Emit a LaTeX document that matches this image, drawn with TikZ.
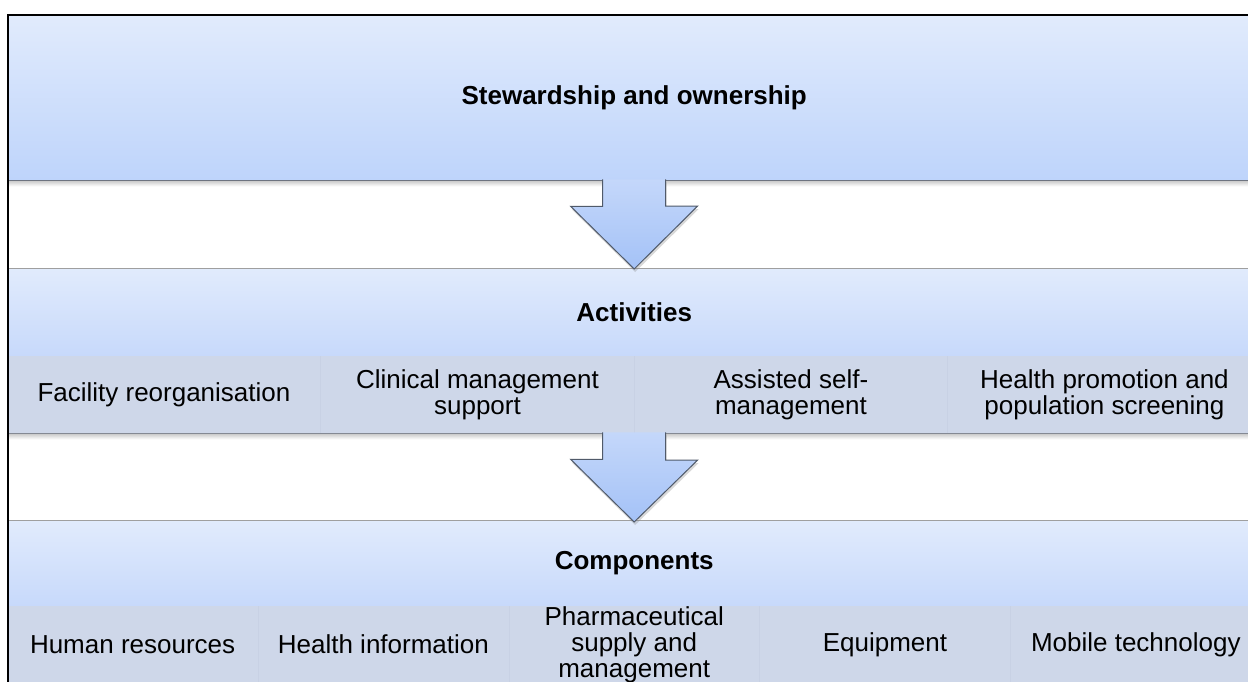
\documentclass[tikz,border=0pt]{standalone}
\usepackage{fontspec}
\setmainfont{Liberation Sans}
\usetikzlibrary{calc,shadows}

\definecolor{bandlight}{RGB}{225,235,252}
\definecolor{banddark}{RGB}{190,212,251}
\definecolor{headdark}{RGB}{199,217,251}
\definecolor{rowfill}{RGB}{206,215,233}
\definecolor{rowline}{RGB}{200,209,228}
\definecolor{arrowlight}{RGB}{196,215,250}
\definecolor{arrowdark}{RGB}{164,194,247}
\definecolor{arrowedge}{RGB}{80,90,106}
\definecolor{edgegray}{RGB}{110,116,128}

\begin{document}
\begin{tikzpicture}[x=1pt,y=-1pt,
  every node/.style={inner sep=0pt,font=\fontsize{26}{26}\selectfont,align=center},
  band/.style={rectangle,minimum width=1254pt,anchor=north west,top color=bandlight,bottom color=#1},
  cell4/.style={rectangle,minimum width=313.5pt,minimum height=77pt,anchor=north west,fill=rowfill},
  cell5/.style={cell4,minimum width=250.8pt},
  divider/.style={rowline,line width=1pt},
  flow/.style={draw=arrowedge,line width=1pt,top color=arrowlight,bottom color=arrowdark,
    drop shadow={opacity=0.3,shadow xshift=1pt,shadow yshift=-3pt}}]
\useasboundingbox (0,0) rectangle (1248,682);
\clip (0,0) rectangle (1248,682);
\fill[white] (0,0) rectangle (1248,682);
% bands
\node[band=banddark,minimum height=165pt] (stew) at (7,15) {\bfseries Stewardship and ownership};
\node[band=headdark,minimum height=88pt] (acthead) at (7,268) {\bfseries Activities};
\node[cell4] (fac) at (7,356) {Facility reorganisation};
\node[cell4] (clin) at (320.5,356) {Clinical management\\support};
\node[cell4] (self) at (634,356) {Assisted self-\\management};
\node[cell4] (promo) at (947.5,356) {Health promotion and\\population screening};
\node[band=headdark,minimum height=86pt] (comphead) at (7,520) {\bfseries Components};
\node[cell5] (hr) at (7,606) {Human resources};
\node[cell5] (info) at (257.8,606) {Health information};
\node[cell5] (pharma) at (508.6,606) {Pharmaceutical\\supply and\\management};
\node[cell5] (equip) at (759.4,606) {Equipment};
\node[cell5] (mobile) at (1010.2,606) {Mobile technology};
% faint cell dividers
\draw[divider] (fac.north east) -- (fac.south east);
\draw[divider] (clin.north east) -- (clin.south east);
\draw[divider] (self.north east) -- (self.south east);
\draw[divider] (hr.north east) -- (hr.south east);
\draw[divider] (info.north east) -- (info.south east);
\draw[divider] (pharma.north east) -- (pharma.south east);
\draw[divider] (equip.north east) -- (equip.south east);
% edges and shadows
\shade[top color=black!22,bottom color=white] (stew.south west) rectangle ($(stew.south east)+(0,6)$);
\draw[edgegray,line width=1.3pt] (stew.south west) -- (stew.south east);
\draw[gray!75,line width=1pt] (acthead.north west) -- (acthead.north east);
\shade[top color=black!22,bottom color=white] (fac.south west) rectangle ($(promo.south east)+(0,6)$);
\draw[edgegray!85,line width=1.2pt] (fac.south west) -- (promo.south east);
\draw[gray!75,line width=1pt] (comphead.north west) -- (comphead.north east);
% arrows
\draw[flow] ($(stew.south)+(-31.5,-1)$) -- ++(0,27) -- ++(-32,0) -- ($(acthead.north)+(0,1)$)
  -- ++(63.5,-63) -- ++(-32,0) -- ($(stew.south)+(31.5,-1)$);
\coordinate (actmid) at ($(clin.south east)!.5!(self.south west)$);
\draw[flow] ($(actmid)+(-31.5,-1)$) -- ++(0,27) -- ++(-32,0) -- ($(comphead.north)+(0,2)$)
  -- ++(63.5,-62) -- ++(-32,0) -- ($(actmid)+(31.5,-1)$);
% frame
\node[draw=black,line width=2pt,minimum width=1255pt,minimum height=690pt,anchor=north west] (frame) at (7,14) {};
\end{tikzpicture}
\end{document}
